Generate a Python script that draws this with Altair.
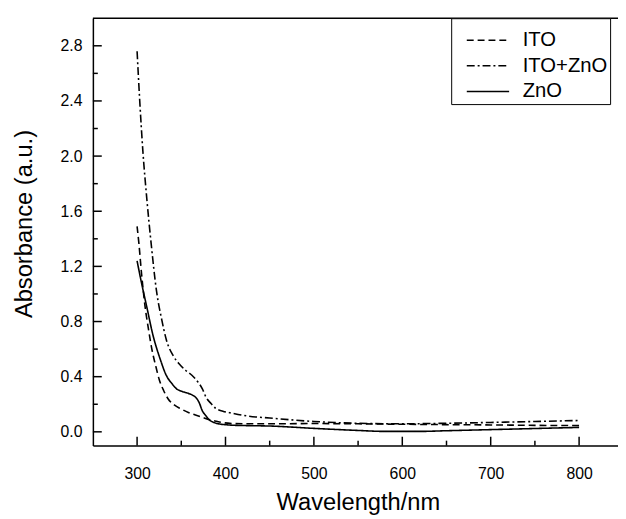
import altair as alt
import pandas as pd

# ---- data ----
series_names = ["ITO", "ITO+ZnO", "ZnO"]

ito_wl = [300, 302, 305, 309, 313, 317, 321, 325, 330, 335, 342, 350, 358, 366, 374,
          382, 390, 398, 410, 425, 450, 500, 550, 600, 650, 700, 750, 800]
ito_abs = [1.49, 1.37, 1.15, 0.91, 0.74, 0.59, 0.48, 0.38, 0.30, 0.24, 0.195, 0.165, 0.14,
           0.122, 0.105, 0.088, 0.076, 0.066, 0.060, 0.058, 0.058, 0.060, 0.058, 0.055,
           0.052, 0.050, 0.047, 0.045]

itozno_wl = [300, 303, 306.5, 311, 316, 322, 328, 333, 341, 348, 355, 362, 369, 374, 378,
             383, 389, 397, 408, 425, 450, 500, 550, 600, 650, 700, 750, 800]
itozno_abs = [2.76, 2.40, 2.04, 1.69, 1.36, 1.02, 0.81, 0.67, 0.55, 0.49, 0.445, 0.41, 0.36,
              0.31, 0.25, 0.21, 0.17, 0.15, 0.135, 0.115, 0.10, 0.075, 0.062, 0.058, 0.062,
              0.068, 0.075, 0.082]

zno_wl = [300, 305, 311, 318, 326, 333, 340, 345, 350, 356, 363, 367, 370, 374, 378, 382,
          387, 393, 400, 408, 425, 450, 500, 550, 580, 620, 650, 700, 750, 800]
zno_abs = [1.24, 1.08, 0.905, 0.70, 0.53, 0.41, 0.345, 0.31, 0.295, 0.283, 0.265, 0.245,
           0.215, 0.15, 0.115, 0.085, 0.068, 0.057, 0.052, 0.048, 0.045, 0.042, 0.025, 0.010,
           0.003, 0.003, 0.008, 0.016, 0.024, 0.032]

x_major = [300, 400, 500, 600, 700, 800]
x_minor = [350, 450, 550, 650, 750]
y_major = [0.0, 0.4, 0.8, 1.2, 1.6, 2.0, 2.4, 2.8]
y_minor = [0.2, 0.6, 1.0, 1.4, 1.8, 2.2, 2.6]

rows = []
for name, wls, vals in [("ITO", ito_wl, ito_abs), ("ITO+ZnO", itozno_wl, itozno_abs),
                        ("ZnO", zno_wl, zno_abs)]:
    for w, a in zip(wls, vals):
        rows.append({"series": name, "wavelength": w, "absorbance": a})
df = pd.DataFrame(rows)

W, H = 532, 433
FONT = "Liberation Sans"
xs = alt.Scale(domain=[250, 844], nice=False, zero=False)
ys = alt.Scale(domain=[-0.1, 3.0], nice=False, zero=False)

S = 14.3  # layout size of the legend symbol (sqrt of symbolSize)

lines = alt.Chart(df).mark_line(color="black", strokeWidth=1.6, interpolate="monotone").encode(
    x=alt.X("wavelength:Q", scale=xs,
            axis=alt.Axis(title="Wavelength/nm", orient="bottom", values=x_major, ticks=False,
                          format="d", labelPadding=20, titleX=268.5, titleY=65,
                          titleBaseline="alphabetic", titleAnchor="middle")),
    y=alt.Y("absorbance:Q", scale=ys,
            axis=alt.Axis(title="Absorbance (a.u.)", orient="left", values=y_major, ticks=False,
                          format=".1f", labelPadding=11, titleX=-69, titleY=208,
                          titleBaseline="middle", titleAngle=270)),
    strokeDash=alt.StrokeDash("series:N",
                              scale=alt.Scale(domain=series_names,
                                              range=[[7, 4], [8, 3, 2, 3], [1, 0]]),
                              legend=alt.Legend(title=" ", titleFontSize=8, titlePadding=2,
                                                orient="none", legendX=363, legendY=0,
                                                direction="vertical",
                                                strokeColor="black", fillColor="white",
                                                padding=2, symbolType="M-3,0H3",
                                                symbolSize=S * S,
                                                symbolStrokeWidth=1.5, symbolStrokeColor="black",
                                                symbolOffset=25, labelOffset=25,
                                                labelFontSize=20.5, labelFont=FONT,
                                                labelColor="black", rowPadding=5)),
)

# tick marks inside the frame, placed by the shared scales
TW = 1.5
TC = "black"
xmaj = alt.Chart(pd.DataFrame({"wavelength": x_major})).mark_rule(color=TC, strokeWidth=TW).encode(
    x=alt.X("wavelength:Q", scale=xs), y=alt.value(H), y2=alt.value(H - 9))
xmin = alt.Chart(pd.DataFrame({"wavelength": x_minor})).mark_rule(color=TC, strokeWidth=TW).encode(
    x=alt.X("wavelength:Q", scale=xs), y=alt.value(H), y2=alt.value(H - 5))
ymaj = alt.Chart(pd.DataFrame({"absorbance": y_major})).mark_rule(color=TC, strokeWidth=TW).encode(
    y=alt.Y("absorbance:Q", scale=ys), x=alt.value(0), x2=alt.value(9))
ymin = alt.Chart(pd.DataFrame({"absorbance": y_minor})).mark_rule(color=TC, strokeWidth=TW).encode(
    y=alt.Y("absorbance:Q", scale=ys), x=alt.value(0), x2=alt.value(5))

top_border = alt.Chart(pd.DataFrame({"k": [0]})).mark_rule(color="black", strokeWidth=1.5).encode(
    x=alt.value(0), x2=alt.value(W), y=alt.value(0)
)

chart = alt.layer(lines, xmaj, xmin, ymaj, ymin, top_border).properties(
    width=W, height=H,
    autosize=alt.AutoSizeParams(type="none"),
    padding={"left": 86, "top": 7, "right": 0, "bottom": 71},
    background="white",
).configure_view(stroke=None).configure_axis(
    grid=False, domainColor="black", domainWidth=1.5,
    labelColor="black", labelFont=FONT, labelFontSize=16, titleFont=FONT, titleFontSize=24,
    titleFontWeight="normal", titleColor="black"
)

chart.save("out.html", embed_options={"renderer": "svg", "actions": False})
